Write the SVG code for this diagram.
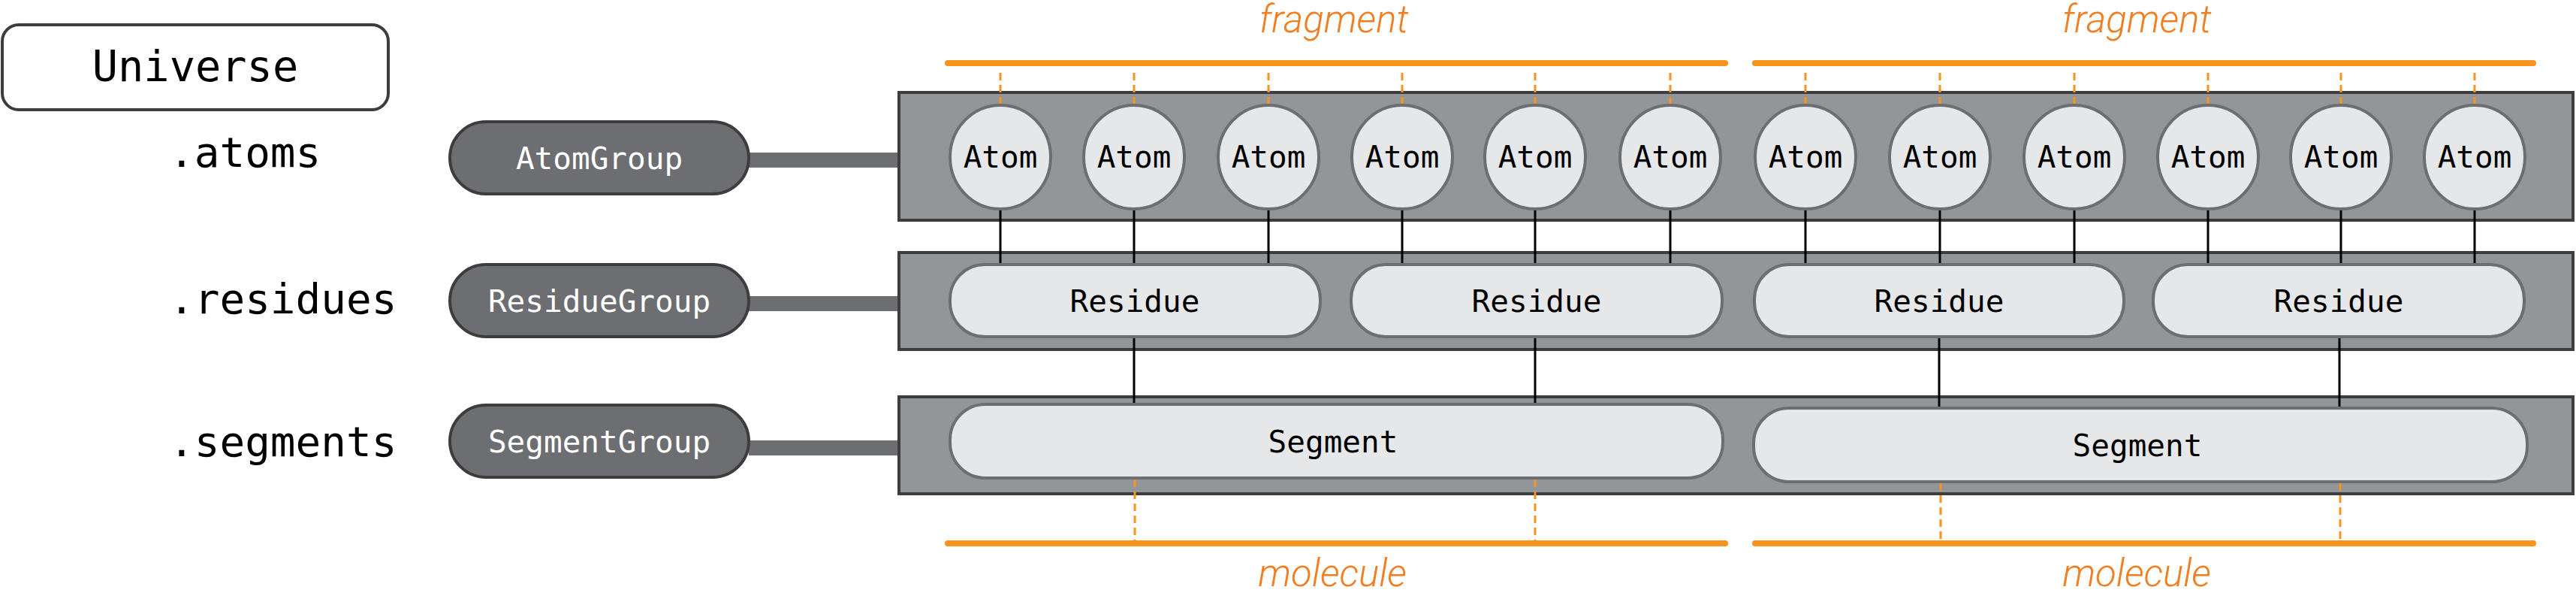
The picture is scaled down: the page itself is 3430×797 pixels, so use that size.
<svg xmlns="http://www.w3.org/2000/svg" width="3430" height="797" viewBox="0 0 3430 797">
<style>
.mono{font-family:"DejaVu Sans Mono","Liberation Mono",monospace;}
.lbl{font-size:56px;fill:#000;}
.pill{fill:#6d6e71;stroke:#3d3d3e;stroke-width:4;}
.pilltxt{font-size:41px;fill:#fff;text-anchor:middle;}
.box{fill:#939598;stroke:#3d3d3e;stroke-width:4;}
.item{fill:#e6e7e8;stroke:#6d6e71;stroke-width:4;}
.itxt{font-size:41px;fill:#000;text-anchor:middle;}
.thick{stroke:#6d6e71;stroke-width:20;}
.link{stroke:#000;stroke-width:3;}
.dash{stroke:#f7941d;stroke-width:3;stroke-dasharray:10 6;}
.bar{stroke:#f7941d;stroke-width:8;stroke-linecap:round;}
.otxt{font-family:Roboto,"Liberation Sans",sans-serif;font-weight:300;font-style:italic;font-size:51px;fill:#f47d20;text-anchor:middle;}
</style>
<rect width="3430" height="797" fill="#fff"/>

<g id="universe">
<rect x="3" y="33" width="514" height="113" rx="22" fill="#fff" stroke="#3d3d3e" stroke-width="4"/>
<text class="mono" x="260" y="108" font-size="57" text-anchor="middle">Universe</text>
</g>
<g id="labels">
<text class="mono lbl" x="225" y="222">.atoms</text>
<text class="mono lbl" x="225" y="417">.residues</text>
<text class="mono lbl" x="225" y="607">.segments</text>
</g>

<g id="connectors">
<line class="thick" x1="997" y1="213" x2="1198" y2="213"/>
<line class="thick" x1="997" y1="404" x2="1198" y2="404"/>
<line class="thick" x1="997" y1="596" x2="1198" y2="596"/>
</g>

<g id="atomgroup"><rect class="pill" x="599" y="162" width="398" height="96" rx="48"/><text class="mono pilltxt" x="798" y="225">AtomGroup</text></g>
<g id="residuegroup"><rect class="pill" x="599" y="352" width="398" height="96" rx="48"/><text class="mono pilltxt" x="798" y="415">ResidueGroup</text></g>
<g id="segmentgroup"><rect class="pill" x="599" y="539" width="398" height="96" rx="48"/><text class="mono pilltxt" x="798" y="602">SegmentGroup</text></g>

<g id="atombox"><rect class="box" x="1197" y="123" width="2229" height="170"/></g>
<g id="residuebox"><rect class="box" x="1197" y="336" width="2229" height="129"/></g>
<g id="segmentbox"><rect class="box" x="1197" y="528" width="2229" height="129"/></g>

<g id="links">
<line class="link" x1="1332" y1="278" x2="1332" y2="352"/>
<line class="link" x1="1510" y1="278" x2="1510" y2="352"/>
<line class="link" x1="1689" y1="278" x2="1689" y2="352"/>
<line class="link" x1="1867" y1="278" x2="1867" y2="352"/>
<line class="link" x1="2044" y1="278" x2="2044" y2="352"/>
<line class="link" x1="2224" y1="278" x2="2224" y2="352"/>
<line class="link" x1="2404" y1="278" x2="2404" y2="352"/>
<line class="link" x1="2583" y1="278" x2="2583" y2="352"/>
<line class="link" x1="2762" y1="278" x2="2762" y2="352"/>
<line class="link" x1="2940" y1="278" x2="2940" y2="352"/>
<line class="link" x1="3117" y1="278" x2="3117" y2="352"/>
<line class="link" x1="3295" y1="278" x2="3295" y2="352"/>
<line class="link" x1="1510" y1="448" x2="1510" y2="538"/>
<line class="link" x1="2044" y1="448" x2="2044" y2="538"/>
<line class="link" x1="2582" y1="448" x2="2582" y2="543"/>
<line class="link" x1="3115" y1="448" x2="3115" y2="543"/>
<line class="dash" x1="1332" y1="97" x2="1332" y2="140"/>
<line class="dash" x1="1510" y1="97" x2="1510" y2="140"/>
<line class="dash" x1="1689" y1="97" x2="1689" y2="140"/>
<line class="dash" x1="1867" y1="97" x2="1867" y2="140"/>
<line class="dash" x1="2044" y1="97" x2="2044" y2="140"/>
<line class="dash" x1="2224" y1="97" x2="2224" y2="140"/>
<line class="dash" x1="2404" y1="97" x2="2404" y2="140"/>
<line class="dash" x1="2583" y1="97" x2="2583" y2="140"/>
<line class="dash" x1="2762" y1="97" x2="2762" y2="140"/>
<line class="dash" x1="2940" y1="97" x2="2940" y2="140"/>
<line class="dash" x1="3117" y1="97" x2="3117" y2="140"/>
<line class="dash" x1="3295" y1="97" x2="3295" y2="140"/>
<line class="dash" x1="1511" y1="638" x2="1511" y2="719"/>
<line class="dash" x1="2044" y1="638" x2="2044" y2="719"/>
<line class="dash" x1="2584" y1="643" x2="2584" y2="719"/>
<line class="dash" x1="3116" y1="643" x2="3116" y2="719"/>
<line class="bar" x1="1262" y1="84" x2="2297" y2="84"/>
<line class="bar" x1="2337" y1="84" x2="3373" y2="84"/>
<line class="bar" x1="1262" y1="723" x2="2297" y2="723"/>
<line class="bar" x1="2337" y1="723" x2="3373" y2="723"/>
</g>

<g id="fragment1"><text class="otxt" x="1776" y="43">fragment</text></g>
<g id="fragment2"><text class="otxt" x="2845" y="43">fragment</text></g>
<g id="molecule1"><text class="otxt" x="1774" y="780">molecule</text></g>
<g id="molecule2"><text class="otxt" x="2845" y="780">molecule</text></g>

<g id="atom1"><ellipse class="item" cx="1332" cy="209" rx="67" ry="69"/><text class="mono itxt" x="1332" y="223">Atom</text></g>
<g id="atom2"><ellipse class="item" cx="1510" cy="209" rx="67" ry="69"/><text class="mono itxt" x="1510" y="223">Atom</text></g>
<g id="atom3"><ellipse class="item" cx="1689" cy="209" rx="67" ry="69"/><text class="mono itxt" x="1689" y="223">Atom</text></g>
<g id="atom4"><ellipse class="item" cx="1867" cy="209" rx="67" ry="69"/><text class="mono itxt" x="1867" y="223">Atom</text></g>
<g id="atom5"><ellipse class="item" cx="2044" cy="209" rx="67" ry="69"/><text class="mono itxt" x="2044" y="223">Atom</text></g>
<g id="atom6"><ellipse class="item" cx="2224" cy="209" rx="67" ry="69"/><text class="mono itxt" x="2224" y="223">Atom</text></g>
<g id="atom7"><ellipse class="item" cx="2404" cy="209" rx="67" ry="69"/><text class="mono itxt" x="2404" y="223">Atom</text></g>
<g id="atom8"><ellipse class="item" cx="2583" cy="209" rx="67" ry="69"/><text class="mono itxt" x="2583" y="223">Atom</text></g>
<g id="atom9"><ellipse class="item" cx="2762" cy="209" rx="67" ry="69"/><text class="mono itxt" x="2762" y="223">Atom</text></g>
<g id="atom10"><ellipse class="item" cx="2940" cy="209" rx="67" ry="69"/><text class="mono itxt" x="2940" y="223">Atom</text></g>
<g id="atom11"><ellipse class="item" cx="3117" cy="209" rx="67" ry="69"/><text class="mono itxt" x="3117" y="223">Atom</text></g>
<g id="atom12"><ellipse class="item" cx="3295" cy="209" rx="67" ry="69"/><text class="mono itxt" x="3295" y="223">Atom</text></g>

<g id="residue1"><rect class="item" x="1265" y="352" width="493" height="96" rx="46"/><text class="mono itxt" x="1511" y="415">Residue</text></g>
<g id="residue2"><rect class="item" x="1799" y="352" width="494" height="96" rx="46"/><text class="mono itxt" x="2046" y="415">Residue</text></g>
<g id="residue3"><rect class="item" x="2336" y="352" width="492" height="96" rx="46"/><text class="mono itxt" x="2582" y="415">Residue</text></g>
<g id="residue4"><rect class="item" x="2867" y="352" width="494" height="96" rx="46"/><text class="mono itxt" x="3114" y="415">Residue</text></g>

<g id="segment1"><rect class="item" x="1265" y="538" width="1029" height="98" rx="47"/><text class="mono itxt" x="1775" y="602">Segment</text></g>
<g id="segment2"><rect class="item" x="2335" y="543" width="1030" height="98" rx="47"/><text class="mono itxt" x="2846" y="607">Segment</text></g>
</svg>
